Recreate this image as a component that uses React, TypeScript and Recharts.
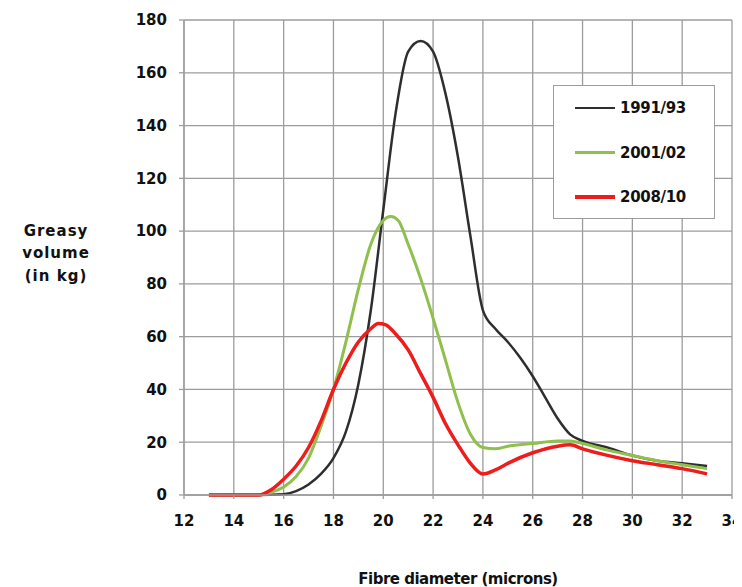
import React from 'react';
import { LineChart, Line, XAxis, YAxis, CartesianGrid, Legend, Label } from 'recharts';

// fibre diameter (microns) sample points
const X_1991 = [13, 14, 15, 16, 16.5, 17, 17.5, 18, 18.5, 19, 19.5, 20, 20.5, 21, 21.5, 22, 22.5, 23, 23.5, 24, 24.5, 25, 25.5, 26, 26.5, 27, 27.5, 28, 29, 30, 31, 32, 33];
const Y_1991 = [0, 0, 0, 0.3, 1.5, 4, 8, 14, 24, 42, 70, 108, 145, 168, 172, 168, 152, 128, 98, 70, 63, 58, 52, 45, 37, 29, 23, 20.5, 18, 15, 13, 12, 11];

const X_2001 = [13, 14, 15, 15.5, 16, 16.5, 17, 17.5, 18, 18.5, 19, 19.5, 20, 20.3, 20.6, 21, 21.5, 22, 22.5, 23, 23.5, 24, 24.5, 25, 26, 27, 27.5, 28, 29, 30, 31, 32, 33];
const Y_2001 = [0, 0, 0, 1, 3, 7, 14, 26, 40, 58, 78, 95, 104, 105.5, 104, 95, 82, 67, 51, 35, 23, 18, 17.5, 18.5, 19.5, 20.5, 20.5, 19.5, 17, 15, 13, 11.5, 10];

const X_2008 = [13, 14, 15, 15.5, 16, 16.5, 17, 17.5, 18, 18.5, 19, 19.5, 19.8, 20.1, 20.5, 21, 21.5, 22, 22.5, 23, 23.5, 24, 24.5, 25, 26, 27, 27.5, 28, 29, 30, 31, 32, 33];
const Y_2008 = [0, 0, 0, 2, 6, 11, 18, 28, 40, 50, 58, 63, 65, 64.5, 61, 55, 46, 37, 27, 19, 12, 8, 9.5, 12, 16, 18.5, 19, 17.5, 15, 13, 11.5, 10, 8];

const SERIES = ['1991/93', '2001/02', '2008/10'];
const COLORS = ['#2e2e2e', '#8fbf4d', '#ee1c1c'];
const WIDTHS = [2.5, 3, 3.5];

const X_TICKS = [12, 14, 16, 18, 20, 22, 24, 26, 28, 30, 32, 34];
const Y_TICKS = [0, 20, 40, 60, 80, 100, 120, 140, 160, 180];
const Y_LABEL = ['Greasy', 'volume', '(in kg)'];
const X_LABEL = 'Fibre diameter (microns)';

const toRows = (xs: number[], ys: number[]) => xs.map((x, i) => ({ x, y: ys[i] }));
const rows = [toRows(X_1991, Y_1991), toRows(X_2001, Y_2001), toRows(X_2008, Y_2008)];

const FONT = '"DejaVu Sans", sans-serif';
const GRID = '#9c9c9c';
const tickStyle = { fontFamily: FONT, fontSize: 15, fontWeight: 700, fill: '#111' };

const LegendBox = () => (
  <div style={{ width: 162, height: 134, border: '1.5px solid #9c9c9c', background: '#fff', position: 'relative', boxSizing: 'border-box' }}>
    {SERIES.map((s, i) => (
      <div key={s} style={{ position: 'absolute', left: 21, top: 22 + i * 44.5 - 10, height: 20, display: 'flex', alignItems: 'center' }}>
        <div style={{ width: 40, height: WIDTHS[i], background: COLORS[i] }} />
        <span style={{ marginLeft: 5, fontFamily: FONT, fontSize: 15, fontWeight: 700, color: '#111', letterSpacing: -0.3 }}>{s}</span>
      </div>
    ))}
  </div>
);

const YTitle = () => {
  const cx = 48;
  const cy = 245;
  return (
    <text x={cx} y={cy} textAnchor="middle" style={{ fontFamily: FONT, fontSize: 15, fontWeight: 700, fill: '#111', letterSpacing: 1 }}>
      {Y_LABEL.map((l, i) => (
        <tspan key={l} x={cx} y={cy + (i - 1) * 22.5 + 5}>{l}</tspan>
      ))}
    </text>
  );
};

export default function App() {
  return (
    <LineChart width={734} height={579} margin={{ top: 12, right: 10, left: 0, bottom: 0 }}>
      <CartesianGrid stroke={GRID} strokeWidth={1.3} />
      <XAxis
        type="number"
        dataKey="x"
        domain={[12, 34]}
        ticks={X_TICKS}
        height={92}
        stroke={GRID}
        strokeWidth={1.3}
        tickSize={4}
        tickMargin={16}
        tick={tickStyle}
        allowDuplicatedCategory={false}
      >
        <Label value={X_LABEL} position="insideBottom" offset={3} style={{ fontFamily: FONT, fontSize: 15, fontWeight: 700, fill: '#111', letterSpacing: -0.5 }} />
      </XAxis>
      <YAxis
        type="number"
        domain={[0, 180]}
        ticks={Y_TICKS}
        width={176}
        stroke={GRID}
        strokeWidth={1.3}
        tickSize={5}
        tickMargin={12}
        tick={tickStyle}
      >
        <Label content={<YTitle />} />
      </YAxis>
      <Legend
        layout="horizontal"
        verticalAlign="middle"
        align="center"
        content={<LegendBox />}
        wrapperStyle={{ left: 545, top: 77, width: 162, height: 134 }}
      />
      {SERIES.map((s, i) => (
        <Line
          key={s}
          name={s}
          data={rows[i]}
          dataKey="y"
          type="monotone"
          stroke={COLORS[i]}
          strokeWidth={WIDTHS[i]}
          dot={false}
          activeDot={false}
          isAnimationActive={false}
        />
      ))}
    </LineChart>
  );
}
